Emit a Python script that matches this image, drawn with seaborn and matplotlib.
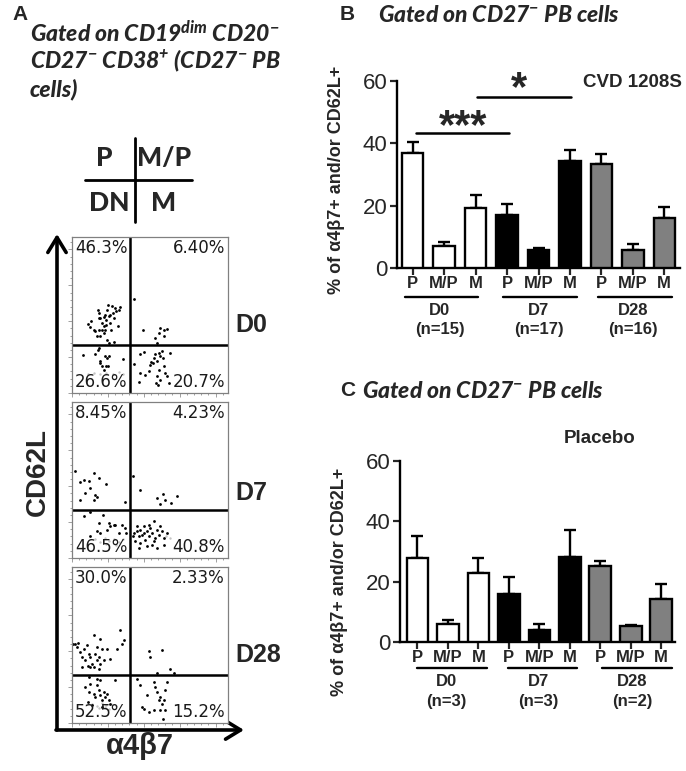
import numpy as np
import pandas as pd
import matplotlib
matplotlib.use('Agg')
import matplotlib.pyplot as plt
import seaborn as sns
from matplotlib.ticker import MultipleLocator

sns.set_style("white")
plt.rcParams['font.family'] = ['Liberation Sans', 'DejaVu Sans']
plt.rcParams['mathtext.fontset'] = 'custom'
plt.rcParams['mathtext.rm'] = 'Lato:italic:black'
plt.rcParams['mathtext.it'] = 'Lato:italic:black'
plt.rcParams['mathtext.bf'] = 'Lato:italic:black'

W, H = 686, 771

# ---- data ----
days = ['D0', 'D7', 'D28']
subsets = ['P', 'M/P', 'M']
day_colors = {'D0': 'white', 'D7': 'black', 'D28': '#808080'}

# panel B: CVD 1208S, mean and mean+SEM
cvd_mean = [37.0, 6.9, 19.4, 17.1, 5.7, 34.2, 33.4, 5.9, 16.0]
cvd_top = [40.3, 8.3, 23.5, 20.5, 6.4, 37.9, 36.6, 7.7, 19.7]
cvd_n = [15, 17, 16]

# panel C: placebo
pla_mean = [27.8, 6.0, 23.0, 15.9, 4.1, 28.1, 25.1, 5.2, 14.3]
pla_top = [35.0, 7.4, 27.8, 21.4, 6.1, 37.0, 26.7, 5.5, 19.3]
pla_n = [3, 3, 2]

# panel A: quadrant percentages (UL, UR, LL, LR)
quad_pct = {
    'D0': ['46.3%', '6.40%', '26.6%', '20.7%'],
    'D7': ['8.45%', '4.23%', '46.5%', '40.8%'],
    'D28': ['30.0%', '2.33%', '52.5%', '15.2%'],
}
gate_x, gate_y = 37.4, 31.0

# events (a4b7, CD62L)
d0_pts = [(10.0, 44.2), (11.3, 42.1), (12.2, 45.9), (13.9, 40.6), (16.7, 53.0), (17.5, 51.3), (18.2, 48.1),
          (19.2, 44.9), (20.3, 42.7), (21.4, 50.2), (22.0, 47.0), (22.4, 53.4), (22.9, 56.6), (23.5, 49.1),
          (24.6, 44.9), (25.2, 40.6), (25.6, 55.6), (26.3, 51.3), (26.7, 48.1), (27.8, 54.5), (28.4, 52.4),
          (29.3, 42.7), (29.9, 53.4), (30.6, 55.1), (17.1, 40.6), (16.0, 36.3), (18.2, 36.3), (20.3, 38.5),
          (22.4, 34.2), (23.5, 32.1), (26.7, 32.5), (15.0, 39.5), (19.2, 40.6), (21.4, 40.6), (24.6, 50.2),
          (20.3, 48.7), (17.3, 48.1), (22.0, 43.8),
          (40.0, 60.5), (45.5, 40.2), (53.4, 35.3), (54.5, 32.1), (56.6, 41.7), (58.8, 40.6), (59.2, 36.3),
          (60.9, 41.2), (55.6, 38.5),
          (7.1, 24.6), (14.5, 25.2), (16.7, 27.8), (17.7, 19.2), (19.2, 17.1), (21.4, 23.9), (22.4, 22.4),
          (23.5, 23.5), (22.0, 17.1), (20.3, 15.0), (22.9, 17.1), (32.7, 22.0), (18.2, 20.3), (17.1, 28.8),
          (39.5, 18.8), (43.4, 25.2), (45.9, 26.1), (43.8, 12.8), (47.0, 11.8), (49.1, 13.9), (49.8, 18.2),
          (50.6, 19.7), (51.9, 19.2), (52.8, 22.4), (53.4, 25.2), (54.5, 20.3), (55.6, 25.6), (56.6, 23.5),
          (57.7, 26.7), (58.3, 22.4), (58.8, 17.1), (55.6, 15.0), (54.5, 10.7), (56.6, 8.5), (59.8, 12.8),
          (60.9, 10.7), (63.0, 25.6), (53.6, 6.4), (54.9, 5.3), (42.7, 7.1), (62.0, 6.4)]
d0_gray = [(10, 12), (14, 13), (18, 12.5), (22, 13), (26, 12), (30, 13.5), (33, 12)]

d7_pts = [(2.1, 55.9), (5.3, 48.4), (7.9, 50.3), (8.5, 41.4), (10.7, 49.5), (11.3, 44.6), (13.9, 54.6),
          (15.0, 40.3), (16.0, 39.2), (17.1, 51.6), (22.0, 47.3), (34.2, 36.0), (5.3, 37.1), (13.9, 37.5),
          (39.1, 52.7), (43.8, 43.5), (54.5, 38.2), (58.3, 40.9), (59.4, 37.1), (56.2, 34.3), (63.7, 35.0),
          (67.3, 39.7),
          (7.5, 26.7), (17.1, 22.4), (19.9, 27.3), (27.8, 21.3), (32.1, 21.3), (34.2, 19.2), (16.0, 17.1),
          (18.2, 16.0), (22.4, 18.1), (24.6, 20.3), (29.9, 16.0), (34.8, 16.0), (11.3, 13.9), (23.5, 22.4),
          (26.7, 21.3), (11.8, 29.5),
          (39.5, 16.0), (41.7, 17.1), (42.7, 13.9), (43.8, 18.1), (44.9, 14.9), (45.9, 16.0), (47.0, 11.7),
          (48.1, 17.1), (49.1, 13.9), (50.2, 19.2), (51.3, 16.0), (52.4, 23.5), (53.4, 12.8), (54.5, 18.1),
          (55.6, 14.9), (56.6, 20.3), (57.7, 17.1), (58.8, 12.8), (60.9, 16.0), (40.6, 10.7), (43.8, 9.6),
          (48.1, 7.5), (51.3, 8.5), (54.5, 6.4), (45.9, 20.3), (49.1, 21.3), (41.7, 20.3), (58.8, 8.5),
          (39.1, 13.9), (42.7, 6.4), (52.4, 10.7)]
d7_gray = [(15, 12), (18, 10), (21, 13), (24, 11), (27, 12.5), (30, 10), (33, 12), (22, 9), (28, 8.5),
           (60, 14), (63, 13)]

d28_pts = [(0.6, 50.9), (2.1, 50.4), (3.6, 51.3), (3.2, 48.7), (5.3, 45.5), (6.4, 42.3), (7.5, 47.6),
           (8.5, 40.2), (9.6, 49.8), (10.7, 44.4), (11.8, 42.3), (12.8, 38.0), (13.9, 56.2), (15.0, 44.4),
           (16.0, 40.2), (17.1, 42.3), (18.2, 54.1), (19.2, 47.6), (20.3, 40.2), (22.4, 47.6), (24.6, 41.2),
           (28.8, 47.6), (30.6, 59.4), (32.1, 50.9), (33.1, 53.0), (10.0, 36.3), (13.9, 35.9), (17.1, 34.8),
           (16.0, 48.7), (11.8, 35.9), (6.4, 35.9), (18.2, 38.0),
           (49.6, 45.9), (49.8, 42.3), (57.7, 47.0), (63.0, 34.8), (65.2, 32.2), (54.5, 32.2),
           (8.5, 23.1), (10.7, 19.9), (11.8, 25.2), (13.9, 18.8), (15.0, 16.7), (16.0, 24.1), (17.1, 20.9),
           (18.2, 17.7), (19.2, 14.5), (20.3, 19.9), (21.4, 16.7), (22.4, 18.8), (23.5, 14.5), (18.2, 27.4),
           (27.8, 27.4), (16.0, 28.4), (10.0, 13.5), (24.6, 12.0), (12.8, 11.3), (19.2, 10.3), (10.7, 29.5),
           (41.7, 28.4), (43.8, 24.1), (44.9, 10.3), (45.9, 9.2), (48.1, 17.7), (49.1, 7.1), (52.4, 26.3),
           (53.4, 23.1), (54.5, 19.9), (55.6, 14.5), (56.6, 16.7), (57.7, 12.4), (58.8, 14.5), (59.8, 20.9),
           (60.9, 26.3), (58.3, 2.8), (56.2, 8.1), (52.4, 8.1), (59.8, 8.1)]
d28_gray = [(13, 12), (16, 11), (19, 13), (22, 11.5), (25, 12.5), (28, 11), (17, 9.5), (21, 10), (24, 9)]

flow_pts = {'D0': (d0_pts, d0_gray), 'D7': (d7_pts, d7_gray), 'D28': (d28_pts, d28_gray)}

fig = plt.figure(figsize=(W / 100, H / 100), dpi=100)

# overlay in pixel coordinates for free text, arrows and the quadrant key
ov = fig.add_axes([0, 0, 1, 1])
ov.set_xlim(0, W)
ov.set_ylim(H, 0)
ov.axis('off')

title_font = dict(family=['Lato', 'DejaVu Sans'], fontstyle='italic', fontweight='black', fontsize=16.5)

ov.text(12, 15, 'A', fontsize=15, fontweight='bold', va='center')
ov.text(30, 33, r'Gated on CD19$^{dim}$ CD20$^{-}$', va='center', **title_font)
ov.text(30, 61, r'CD27$^{-}$ CD38$^{+}$ (CD27$^{-}$ PB', va='center', **title_font)
ov.text(30, 89, 'cells)', va='center', **title_font)

ov.text(340, 15, 'B', fontsize=15, fontweight='bold', va='center')
ov.text(378, 15, r'Gated on CD27$^{-}$ PB cells', va='center', **title_font)
ov.text(340, 391, 'C', fontsize=15, fontweight='bold', va='center')
ov.text(362, 391, r'Gated on CD27$^{-}$ PB cells', va='center', **title_font)

# quadrant key
key_font = dict(family=['Lato', 'DejaVu Sans'], fontweight='black', fontsize=19, ha='center', va='center')
ov.plot([135, 135], [138, 222], color='black', lw=2)
ov.plot([85, 192], [180, 180], color='black', lw=2)
ov.text(104, 158, 'P', **key_font)
ov.text(164, 158, 'M/P', **key_font)
ov.text(109, 203, 'DN', **key_font)
ov.text(164, 203, 'M', **key_font)

# axis arrows
arrow = dict(arrowstyle='->,head_length=0.9,head_width=0.55', lw=2.6, color='black',
             shrinkA=0, shrinkB=0, mutation_scale=12)
ov.annotate('', xy=(57, 234), xytext=(57, 730), arrowprops=arrow)
ov.annotate('', xy=(244, 730), xytext=(56, 730), arrowprops=arrow)
ov.text(38, 472, 'CD62L', rotation=90, fontsize=20, fontweight='bold', ha='center', va='center')
ov.text(140, 746, 'α4β7', fontsize=21, fontweight='bold', ha='center', va='center')

# ---- panel A: dot plots ----
box_tops = {'D0': 237, 'D7': 402, 'D28': 567}
label_y = {'D0': 325, 'D7': 493, 'D28': 655}
for d in days:
    top = box_tops[d]
    ax = fig.add_axes([72 / W, 1 - (top + 156) / H, 156 / W, 156 / H])
    pts, gray = flow_pts[d]
    gx, gy = zip(*gray)
    px, py = zip(*pts)
    sns.scatterplot(x=list(gx), y=list(gy), color='#c4c4c4', s=3, linewidth=0, ax=ax)
    sns.scatterplot(x=list(px), y=list(py), color='black', s=4, linewidth=0, ax=ax)
    ax.axvline(gate_x, color='black', lw=1.8)
    ax.axhline(gate_y, color='black', lw=1.8)
    ax.set_xlim(0, 100)
    ax.set_ylim(0, 100)
    for s in ax.spines.values():
        s.set_color('#808080')
        s.set_linewidth(0.9)
    ax.xaxis.set_major_locator(MultipleLocator(23))
    ax.yaxis.set_major_locator(MultipleLocator(23))
    ax.xaxis.set_minor_locator(MultipleLocator(4.6))
    ax.yaxis.set_minor_locator(MultipleLocator(4.6))
    ax.tick_params(which='both', direction='out', color='#909090', width=0.6,
                   labelbottom=False, labelleft=False, bottom=True, left=True)
    ax.tick_params(which='major', length=3)
    ax.tick_params(which='minor', length=1.5)
    ul, ur, ll, lr = quad_pct[d]
    pf = dict(fontsize=12, color='#1a1a1a', family=['DejaVu Sans'])
    ax.text(2, 98.5, ul, ha='left', va='top', **pf)
    ax.text(98, 98.5, ur, ha='right', va='top', **pf)
    ax.text(2, 1.5, ll, ha='left', va='bottom', **pf)
    ax.text(98, 1.5, lr, ha='right', va='bottom', **pf)
    ov.text(235, label_y[d], d, fontsize=18, fontweight='bold', ha='left', va='center')


# ---- panels B and C: bars ----
def bar_panel(rect, means, tops, ns, xlim, width, lines, line_y, lab_x, lab_y, n_y, ylab_pos):
    ax = fig.add_axes(rect)
    df = pd.DataFrame({
        'cond': [f'{d} {s}' for d in days for s in subsets],
        'day': np.repeat(days, 3),
        'mean': means,
    })
    sns.barplot(data=df, x='cond', y='mean', hue='day', palette=day_colors, dodge=False,
                width=width, edgecolor='black', linewidth=1.7, errorbar=None, legend=False,
                ax=ax, zorder=3)
    err = np.array(tops) - np.array(means)
    ax.errorbar(np.arange(9), means, yerr=[np.zeros(9), err], fmt='none', ecolor='black',
                elinewidth=1.7, capsize=4, capthick=1.7, zorder=2)
    sns.despine(ax=ax)
    for s in ['left', 'bottom']:
        ax.spines[s].set_linewidth(1.7)
        ax.spines[s].set_color('black')
    ax.set_ylim(0, 60)
    ax.set_yticks([0, 20, 40, 60])
    ax.set_xlim(*xlim)
    ax.set_xticks(range(9))
    ax.set_xticklabels(subsets * 3, fontweight='bold', fontsize=12)
    ax.tick_params(axis='y', labelsize=16, length=5, width=1.6, left=True, pad=2)
    ax.tick_params(axis='x', length=5, width=1.6, bottom=True, pad=1)
    ax.set_xlabel('')
    ax.set_ylabel('% of α4β7+ and/or CD62L+', fontsize=13, fontweight='bold')
    ax.yaxis.set_label_coords(*ylab_pos)
    trans = ax.get_xaxis_transform()
    for (a, b), cx, d, n in zip(lines, lab_x, days, ns):
        ax.plot([a, b], [line_y, line_y], transform=trans, color='black', lw=1.7, clip_on=False)
        ax.text(cx, lab_y, d, transform=trans, ha='center', va='center', fontsize=12, fontweight='bold')
        ax.text(cx, n_y, f'(n={n})', transform=trans, ha='center', va='center', fontsize=12,
                fontweight='bold')
    return ax


axB = bar_panel([397 / W, 1 - 268 / H, 283 / W, 187 / H], cvd_mean, cvd_top, cvd_n,
                (-0.5, 8.5), 0.68, [(-0.24, 2.08), (2.87, 5.22), (5.89, 8.24)], -0.155,
                [0.85, 4.0, 7.0], -0.225, -0.33, (-0.184, 0.47))
axB.plot([0.1, 3.05], [43.2, 43.2], color='black', lw=1.8)
axB.text(1.6, 41.8, '***', ha='center', va='baseline', fontsize=30, fontweight='bold')
axB.plot([2.06, 5.03], [55.0, 55.0], color='black', lw=1.8)
axB.text(3.38, 53.8, '*', ha='center', va='baseline', fontsize=30, fontweight='bold')
axB.text(8.55, 59.5, 'CVD 1208S', ha='right', va='center', fontsize=13.5, fontweight='bold')

axC = bar_panel([400 / W, 1 - 642 / H, 275 / W, 181 / H], pla_mean, pla_top, pla_n,
                (-0.57, 8.45), 0.71, [(-0.02, 2.28), (2.98, 5.24), (6.06, 8.35)], -0.144,
                [0.96, 3.96, 7.04], -0.22, -0.33, (-0.19, 0.33))
axC.text(5.99, 67.6, 'Placebo', ha='center', va='center', fontsize=13.5, fontweight='bold',
         clip_on=False)

fig.savefig('out.png', dpi=100)
